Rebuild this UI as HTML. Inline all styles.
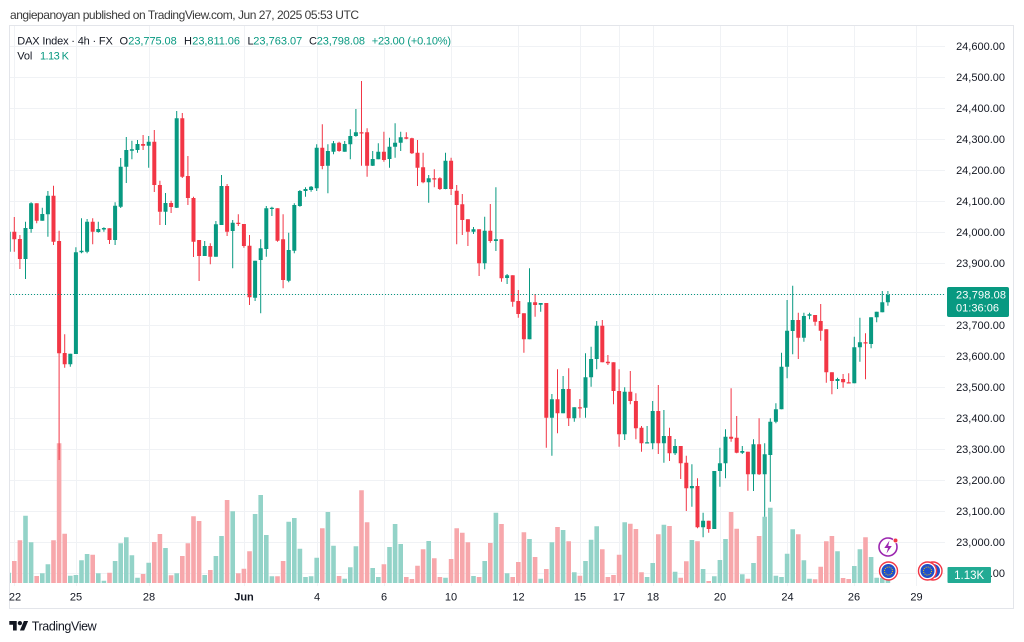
<!DOCTYPE html>
<html><head><meta charset="utf-8"><style>
html,body{margin:0;padding:0;background:#fff;width:1024px;height:642px;overflow:hidden}
svg{display:block;font-family:"Liberation Sans",Arial,sans-serif}
</style></head><body>
<svg width="1024" height="642" viewBox="0 0 1024 642" xmlns="http://www.w3.org/2000/svg">
<defs><clipPath id="ca"><rect x="10" y="26" width="935" height="560"/></clipPath></defs>
<rect width="1024" height="642" fill="#fff"/>
<!-- header -->
<text x="10" y="19" font-size="12" fill="#3a3a3a" textLength="349">angiepanoyan published on TradingView.com, Jun 27, 2025 05:53 UTC</text>
<!-- frame -->
<rect x="9.5" y="25.5" width="1004" height="583" fill="none" stroke="#e3e5ea" stroke-width="1"/>
<!-- grid -->
<g stroke="#f0f2f5" stroke-width="1">
<path d="M10 46.5H945M10 77.5H945M10 108.5H945M10 139.5H945M10 170.5H945M10 201.5H945M10 232.5H945M10 263.5H945M10 294.5H945M10 325.5H945M10 356.5H945M10 387.5H945M10 418.5H945M10 449.5H945M10 480.5H945M10 511.5H945M10 542.5H945M10 573.5H945"/>
<path d="M14.5 26V586M76.5 26V586M149.5 26V586M244.5 26V586M317.5 26V586M384.5 26V586M451.5 26V586M518.5 26V586M580.5 26V586M619.5 26V586M653.5 26V586M720.5 26V586M787.5 26V586M854.5 26V586M916.5 26V586"/>
</g>
<g clip-path="url(#ca)">
<g transform="translate(14.3 0) scale(5.6 1)" fill="none" stroke-linecap="butt">
<!-- volume -->
<path stroke="#93d3c8" stroke-width="4.6" vector-effect="non-scaling-stroke" d="M-1 572.7V583M2 515.7V583M3 542.3V583M5 573.3V583M6 564.3V583M10 575.7V583M11 575V583M12 560.3V583M13 554V583M15 573.3V583M16 580.7V583M18 561V583M19 543.3V583M20 537.3V583M21 555.3V583M22 577.7V583M24 562.7V583M27 548V583M29 573.3V583M34 575V583M36 556V583M37 536V583M39 511.3V583M43 514V583M44 495V583M45 535V583M46 576.3V583M49 521.7V583M50 518V583M51 548.7V583M52 577V583M53 576.3V583M54 557.7V583M56 512V583M57 545.7V583M59 578.7V583M60 567.3V583M61 546.3V583M64 568V583M65 577V583M67 547V583M68 524V583M69 544V583M74 541V583M77 577.7V583M82 576V583M84 561V583M86 512.7V583M88 573.3V583M92 539V583M94 578.7V583M96 542.3V583M98 530V583M100 572.3V583M102 561V583M103 539.7V583M104 526.3V583M109 522.3V583M113 577V583M114 563V583M116 524.7V583M118 571.7V583M121 540V583M123 569V583M125 576.3V583M126 560V583M127 539V583M130 574.3V583M132 563V583M134 516.7V583M135 507.7V583M136 575.7V583M137 577V583M138 553.7V583M139 529.3V583M141 560.3V583M142 578.7V583M147 551.3V583M150 566V583M151 549.3V583M153 557V583M154 577.7V583M155 577.7V583M156 578V583"/>
<path stroke="#f7a7ab" stroke-width="4.6" vector-effect="non-scaling-stroke" d="M0 561V583M1 540.3V583M4 576V583M7 540.3V583M8 443.3V583M9 533.7V583M14 554.7V583M17 572.7V583M23 574V583M25 542V583M26 534V583M28 575.3V583M30 556V583M31 543.3V583M32 516.3V583M33 521V583M35 570V583M38 500V583M40 573.3V583M41 568.7V583M42 551.3V583M47 576.3V583M48 561V583M55 528.3V583M58 576V583M62 490.3V583M63 522.3V583M66 564.3V583M70 577V583M71 579V583M72 565.7V583M73 549.3V583M75 558.3V583M76 577V583M78 559V583M79 528.3V583M80 532.7V583M81 542.3V583M83 577V583M85 543V583M87 524V583M89 577V583M90 562V583M91 532.3V583M93 557V583M95 569V583M97 527V583M99 541.3V583M101 575.7V583M105 549.3V583M106 577V583M107 575V583M108 554.7V583M110 523.7V583M111 529V583M112 572.3V583M115 534.3V583M117 526V583M119 577.7V583M120 561.3V583M122 541.3V583M124 581V583M128 512V583M129 528.7V583M131 578.7V583M133 536V583M140 534.3V583M143 579.3V583M144 566.7V583M145 541.3V583M146 536V583M148 578V583M149 579V583M152 537.3V583"/>
<!-- green wicks -->
<path stroke="#089981" stroke-width="1" vector-effect="non-scaling-stroke" d="M-1 228V262M2 221.7V279M3 202.3V232.7M5 207.7V220.7M6 191V236.7M10 353.7V366.7M11 247.3V354M12 218.3V253.3M13 219V253.3M15 221.7V232.7M16 227.3V231.7M18 202.3V245M19 158V208M20 137V183M21 140.7V159.3M22 140V152.7M24 136V167.7M27 193V225M29 111V208M34 241V256M36 221V256.7M37 175V225M39 220V268.3M43 260.7V301M44 239.3V313.3M45 206V256.7M46 206.7V216M49 232.7V282.3M50 203.3V253.3M51 190V206.7M52 187.3V196.7M53 186V191.7M54 144.3V191M56 144.3V193.3M57 141V154.3M59 141V151.7M60 129.3V159.3M61 109V136.7M64 151V166M65 143.3V159.3M67 137.7V167.7M68 123.3V157.7M69 131.7V151M74 175V202.7M77 152.7V189.3M82 227V234M84 216.7V269.3M86 187.3V251M88 274V284M92 268.3V339.3M94 303V311.7M96 394V455.7M98 376V413.3M100 407.3V421.7M102 353.3V417.7M103 346.7V386.7M104 321V369.3M109 387.3V440M113 426V443.3M114 401V449.3M116 410V462.7M118 439V455M121 464.3V506.7M123 512.7V537.3M125 471V529M126 447.7V486.7M127 429.3V478.3M130 446V454M132 439.3V491M134 443.3V516.7M135 418.3V501.7M136 403.3V423.3M137 352.7V409.3M138 300V378.3M139 285.7V354.3M141 312.7V341.7M142 312.7V319.3M147 377.7V389M150 336.7V383.3M151 317.7V361.7M153 317.3V348.3M154 311.7V322.3M155 291V312.3M156 291V305.7"/>
<!-- green bodies -->
<path stroke="#089981" stroke-width="4" vector-effect="non-scaling-stroke" d="M-1 231.7V251.7M2 228V259M3 203.3V229M5 214V220.7M6 195.7V214.3M10 353.7V364.3M11 252.3V354M12 250.7V252.3M13 221.7V251.7M15 229V232M16 228V229.5M18 205.7V240M19 166.7V206.7M20 150V166.7M21 149.3V150.7M22 144V150M24 141.7V145.7M27 203V211.7M29 118.3V207.7M34 246V256M36 224.3V256.7M37 186V225M39 222.7V231M43 260.7V297.7M44 248.3V260M45 208.3V249M46 207.7V209M49 250V280.7M50 205V250.7M51 191V206M52 189V191M53 186.7V190M54 147.7V188.3M56 151V165.7M57 143.3V151.7M59 144V151.7M60 136V144.3M61 132.3V136M64 159V165.7M65 151.7V159.3M67 146.7V159M68 142.7V146.7M69 137.3V142.7M74 178.3V182.3M77 160.7V189M82 229.3V231.7M84 230.7V263.3M86 239.3V241M88 275.3V278M92 302.3V339.3M94 303V304.7M96 399.3V417.7M98 389V413.3M100 407.3V418.3M102 377.3V407.7M103 359V377.3M104 325.7V359M109 391.7V434.3M113 442.3V443.5M114 411V443.3M116 436V443.3M118 446V453.3M121 486V488.3M123 520.7V527.3M125 471V529M126 463.3V471M127 436.7V463.3M130 451V452.7M132 444.3V474.3M134 454.3V474.3M135 421.7V455M136 409.3V421.7M137 366.7V409.3M138 330.7V366.7M139 320V331M141 316V337.7M142 314.3V315.7M147 379V381M150 347.3V383.3M151 342.3V347.3M153 317.3V344M154 311.7V317.3M155 302.3V312.3M156 295V302.3"/>
<!-- red wicks -->
<path stroke="#f23645" stroke-width="1" vector-effect="non-scaling-stroke" d="M0 217V251.7M1 235V269M4 203.3V223.3M7 185.7V245M8 230.7V460M9 334.3V367.7M14 218.3V244.3M17 228.3V244M23 135V150M25 130V192M26 180.7V225M28 200.7V213M30 113V178M31 156V205M32 196.7V257M33 240V281M35 243.3V264.3M38 184V236M40 214.3V226M41 224V247.7M42 235V305M47 208.3V241.7M48 214.3V288.3M55 124.3V169.3M58 141.7V151.7M62 81V165.7M63 128.3V176.7M66 131.7V161.7M70 132.3V139.3M71 137.7V154M72 140V186M73 152.7V183.3M75 169.3V187.3M76 177.3V190M78 157.7V195M79 185V244.3M80 194V235M81 219.3V246M83 229.3V276M85 204V242.7M87 239.3V281.7M89 275.3V306.7M90 290V317.7M91 313.3V352.7M93 294V316.7M95 303V447.7M97 369.3V433.3M99 368.3V426M101 399V417.7M105 320V362.3M106 355V365M107 362.3V404.3M108 369.3V446.7M110 371V404.3M111 393.3V439.3M112 426V451.7M115 385V454M117 427.7V461M119 446V479M120 455.7V511M122 478.3V528.3M124 520.7V532.7M128 388.3V441.7M129 416V453.3M131 451.7V490.7M133 418.3V475M140 312.7V359M143 315V325.7M144 304V340.7M145 329.3V382.7M146 372.3V394.3M148 374V387.7M149 373.3V383.3M152 333.3V379.3"/>
<!-- red bodies -->
<path stroke="#f23645" stroke-width="4" vector-effect="non-scaling-stroke" d="M0 231.7V239.3M1 239V259M4 203.3V220.7M7 195.7V241.7M8 241V353.3M9 353V364.3M14 221.7V231.7M17 228.3V240M23 144V145.7M25 141.7V185M26 185V211.7M28 203V207M30 118.3V176.7M31 176V198M32 198V241.7M33 240V256M35 246V256.7M38 186V231.7M40 222.7V224M41 224V246M42 245.7V297.3M47 208.3V240.7M48 239.3V280M55 147.7V166M58 142.7V151M62 132.3V133.5M63 132.3V165.7M66 151.7V160M70 137.3V138.7M71 138.3V153.3M72 152.7V167.7M73 167.3V182.3M75 178.3V179.5M76 178.3V189M78 160.7V189M79 190.7V205M80 204.3V220M81 219.3V231.7M83 229.3V263.3M85 230.7V241M87 239.3V278.3M89 275.3V301.7M90 301V314M91 313.3V339.3M93 302.3V305M95 303V417.7M97 399.3V413.3M99 389V418.3M101 407.3V408.5M105 325.7V362.3M106 361.7V363.3M107 362.3V391M108 391V434.3M110 391.7V401M111 401V428.3M112 427.7V443.3M115 411V443.3M117 436V453.3M119 446V463.3M120 462.7V488.3M122 486V527.3M124 520.7V529M128 436.7V438.7M129 437.7V452.7M131 451.7V474.3M133 444.3V474.3M140 320V337.7M143 315V321.7M144 321V330.7M145 329.3V372.3M146 372.3V381M148 379V382.3M149 382.3V383.5M152 342.3V343.5"/>
</g>
<!-- current price dotted line -->
<path d="M10 294.5H945" stroke="#089981" stroke-width="1" stroke-dasharray="1 2"/>
</g>
<!-- legend -->
<g font-size="11">
<text x="17.3" y="44.5" fill="#131722" textLength="95.5">DAX Index · 4h · FX</text>
<text x="119.5" y="44.5" fill="#131722">O</text>
<text x="128.3" y="44.5" fill="#089981" textLength="48.4">23,775.08</text>
<text x="184" y="44.5" fill="#131722">H</text>
<text x="192.3" y="44.5" fill="#089981" textLength="47.7">23,811.06</text>
<text x="247.5" y="44.5" fill="#131722">L</text>
<text x="253.3" y="44.5" fill="#089981" textLength="49">23,763.07</text>
<text x="309" y="44.5" fill="#131722">C</text>
<text x="316.7" y="44.5" fill="#089981" textLength="48.3">23,798.08</text>
<text x="371.7" y="44.5" fill="#089981" textLength="79.3">+23.00 (+0.10%)</text>
<text x="17.3" y="59.5" fill="#131722" textLength="15">Vol</text>
<text x="40" y="59.5" fill="#089981" textLength="29">1.13 K</text>
</g>
<!-- price axis -->
<g font-size="11" fill="#131722" text-anchor="end">
<text x="1005" y="50">24,600.00</text>
<text x="1005" y="81">24,500.00</text>
<text x="1005" y="112">24,400.00</text>
<text x="1005" y="143">24,300.00</text>
<text x="1005" y="174">24,200.00</text>
<text x="1005" y="205">24,100.00</text>
<text x="1005" y="236">24,000.00</text>
<text x="1005" y="267">23,900.00</text>
<text x="1005" y="298">23,800.00</text>
<text x="1005" y="329">23,700.00</text>
<text x="1005" y="360">23,600.00</text>
<text x="1005" y="391">23,500.00</text>
<text x="1005" y="422">23,400.00</text>
<text x="1005" y="453">23,300.00</text>
<text x="1005" y="484">23,200.00</text>
<text x="1005" y="515">23,100.00</text>
<text x="1005" y="546">23,000.00</text>
<text x="1005" y="577">22,900.00</text>
</g>
<!-- current price label -->
<rect x="947" y="287" width="62" height="30" rx="2" fill="#089981"/>
<text x="956" y="298.3" font-size="11" fill="#fff" textLength="50">23,798.08</text>
<text x="956" y="311.7" font-size="11" fill="#fff" textLength="43">01:36:06</text>
<!-- volume label -->
<rect x="947.5" y="567" width="43.5" height="16" rx="1" fill="#22ab94"/>
<text x="969.2" y="579" font-size="11.5" fill="#fff" text-anchor="middle">1.13K</text>
<!-- time axis -->
<g font-size="11" fill="#131722" text-anchor="middle">
<text x="15" y="600.5">22</text>
<text x="76" y="600.5">25</text>
<text x="149" y="600.5">28</text>
<text x="244" y="600.5" font-weight="bold">Jun</text>
<text x="317" y="600.5">4</text>
<text x="384" y="600.5">6</text>
<text x="451" y="600.5">10</text>
<text x="518.5" y="600.5">12</text>
<text x="580" y="600.5">15</text>
<text x="619" y="600.5">17</text>
<text x="653" y="600.5">18</text>
<text x="720" y="600.5">20</text>
<text x="787.5" y="600.5">24</text>
<text x="854" y="600.5">26</text>
<text x="916.5" y="600.5">29</text>
</g>
<!-- event icons -->
<circle cx="888" cy="547" r="9" fill="#fff" stroke="#9c27b0" stroke-width="1.6"/>
<path d="M889.5 540.5L884.3 548H888L886.5 553.5L891.8 546H888.2Z" fill="#9c27b0"/>
<circle cx="895.5" cy="540.5" r="2.4" fill="#f23645" stroke="#fff" stroke-width="0.8"/>
<g>
<circle cx="888.5" cy="571" r="9" fill="#fff" stroke="#f23645" stroke-width="1.4"/>
<circle cx="888.5" cy="571" r="7" fill="#1f4fc9"/>
<circle cx="888.5" cy="571" r="4" fill="none" stroke="#f5c400" stroke-width="1" stroke-dasharray="1 1.1"/>
</g>
<g>
<circle cx="933" cy="571" r="9" fill="#fff" stroke="#f23645" stroke-width="1.4"/>
<circle cx="933" cy="571" r="7" fill="#1f4fc9"/>
<circle cx="927.5" cy="571" r="9" fill="#fff" stroke="#f23645" stroke-width="1.4"/>
<circle cx="927.5" cy="571" r="7" fill="#1f4fc9"/>
<circle cx="927.5" cy="571" r="4" fill="none" stroke="#f5c400" stroke-width="1" stroke-dasharray="1 1.1"/>
</g>
<!-- footer logo -->
<g transform="translate(9.3 618.9) scale(0.53)" fill="#131722">
<path d="M14 22H7V11H0V4h14v18zM28 22h-8l7.5-18h8L28 22z"/>
<circle cx="20" cy="8" r="4"/>
</g>
<text x="31.7" y="630.5" font-size="12.5" fill="#131722" textLength="65">TradingView</text>
</svg>
</body></html>
